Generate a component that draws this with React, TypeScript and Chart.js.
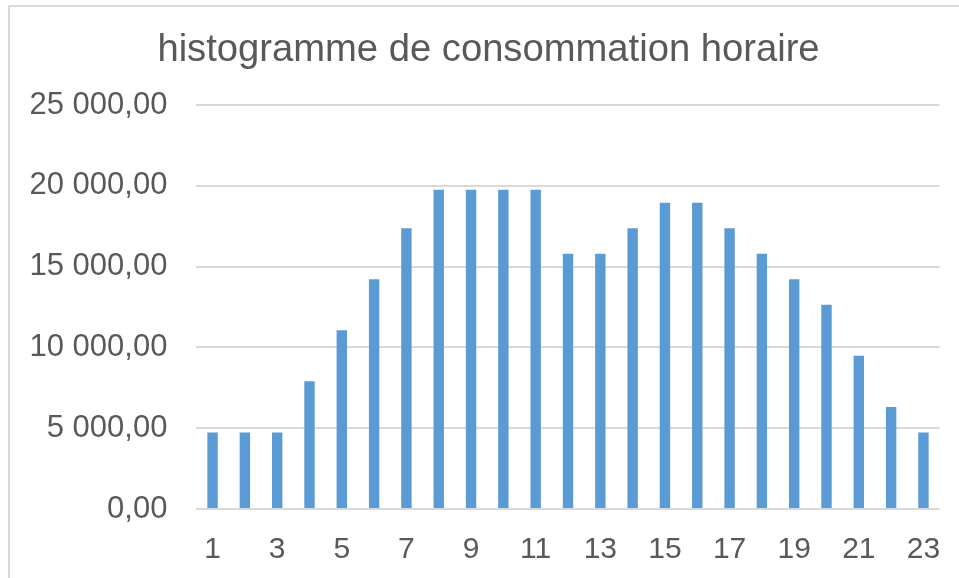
import React, { useEffect, useRef } from "react";
import { Chart, registerables } from "chart.js";

Chart.register(...registerables);

const TITLE = "histogramme de consommation horaire";
const hours = ["1","2","3","4","5","6","7","8","9","10","11","12","13","14","15","16","17","18","19","20","21","22","23"];
const consumption = [4740, 4740, 4740, 7900, 11060, 14220, 17380, 19750, 19750, 19750, 19750, 15800, 15800, 17380, 18960, 18960, 17380, 15800, 14220, 12640, 9480, 6320, 4740];
const yMin = 0;
const yMax = 25000;
const yStep = 5000;

const fmt = (v: number) =>
  Math.round(v).toString().replace(/\B(?=(\d{3})+(?!\d))/g, " ") + ",00";

export default function App() {
  const ref = useRef<HTMLCanvasElement | null>(null);
  useEffect(() => {
    if (!ref.current) return;
    const font = "'Liberation Sans', Arial, sans-serif";
    const chart = new Chart(ref.current, {
      type: "bar",
      data: {
        labels: hours,
        datasets: [
          {
            data: consumption,
            backgroundColor: "#5B9BD5",
            borderWidth: 0,
            categoryPercentage: 1,
            barPercentage: 0.322,
          },
        ],
      },
      options: {
        animation: false,
        responsive: false,
        maintainAspectRatio: false,
        layout: { padding: { top: 28, right: 0, bottom: 0, left: 0 } },
        plugins: {
          legend: { display: false },
          tooltip: { enabled: false },
          title: {
            display: true,
            text: TITLE,
            color: "#595959",
            font: { family: font, size: 38.2, weight: "normal" },
            padding: { top: 0, bottom: 31.2 },
          },
        },
        scales: {
          x: {
            grid: { display: false, drawTicks: false },
            border: { display: false },
            ticks: {
              autoSkip: false,
              maxRotation: 0,
              color: "#595959",
              font: { family: font, size: 30 },
              padding: 22.5,
              callback: (_v: any, i: number) => (i % 2 === 0 ? hours[i] : ""),
            },
            afterFit: (scale: any) => {
              scale.height = 69;
            },
          },
          y: {
            min: yMin,
            max: yMax,
            grid: { color: "#d9d9d9", lineWidth: 2, drawTicks: false },
            border: { display: false },
            ticks: {
              stepSize: yStep,
              color: "#595959",
              font: { family: font, size: 31 },
              padding: 29,
              callback: (v: any) => fmt(Number(v)),
            },
            afterFit: (scale: any) => {
              scale.width = 196.4;
            },
          },
          yRightSpace: {
            position: "right",
            display: true,
            grid: { display: false, drawTicks: false },
            border: { display: false },
            ticks: { display: false },
            afterFit: (scale: any) => {
              scale.width = 37.4;
            },
          },
        },
      },
    });
    return () => chart.destroy();
  }, []);

  return (
    <div style={{ position: "fixed", left: 0, top: 0, width: 959, height: 578, overflow: "hidden", background: "#fff" }}>
      <canvas ref={ref} width={977} height={578} style={{ position: "absolute", left: 0, top: 0, width: 977, height: 578 }} />
      <div style={{ position: "absolute", left: 8, top: 5, width: 951, height: 2, background: "#d9d9d9" }} />
      <div style={{ position: "absolute", left: 8, top: 5, width: 2, height: 573, background: "#d9d9d9" }} />
    </div>
  );
}
